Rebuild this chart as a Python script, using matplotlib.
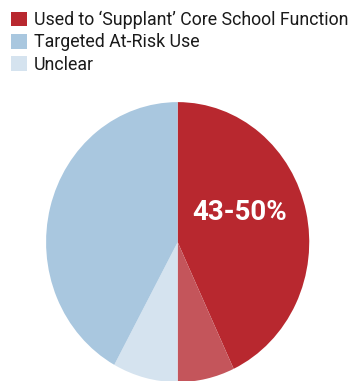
import matplotlib
matplotlib.use('Agg')
import matplotlib.pyplot as plt
from matplotlib.patches import Patch

plt.rcParams['font.family'] = ['Roboto', 'DejaVu Sans']

# share of spending by use (percent)
labels = ["Used to \u2018Supplant\u2019 Core School Function", "Targeted At-Risk Use", "Unclear"]
slice_values = [43, 7, 8, 42]
slice_colors = ['#B8282F', '#C4555B', '#D5E3EF', '#A9C7DF']
legend_colors = ['#B8282F', '#A9C7DF', '#D5E3EF']
range_label = '43-50%'

fig = plt.figure(figsize=(3.6, 3.81), dpi=100)
ax = fig.add_axes([0.128, -0.003, 0.731, 0.735])

ax.pie(slice_values, colors=slice_colors, startangle=90, counterclock=False,
       radius=1.0, wedgeprops={'linewidth': 0})
ax.set_aspect('auto')
ax.set_xlim(-1, 1)
ax.set_ylim(-1, 1)
ax.axis('off')

ax.text(0.474, 0.214, range_label, ha='center', va='center', color='white',
        fontsize=20, fontweight='bold')

handles = [Patch(facecolor=c, edgecolor='none') for c in legend_colors]
fig.legend(handles, labels, loc='upper left', bbox_to_anchor=(0.0, 1.0),
           frameon=False, fontsize=12.8, handlelength=0.9, handleheight=0.9,
           handletextpad=0.4, labelspacing=0.25, borderaxespad=0.2,
           labelcolor='#1a1a1a')

plt.savefig('out.png', dpi=100)
plt.close()
